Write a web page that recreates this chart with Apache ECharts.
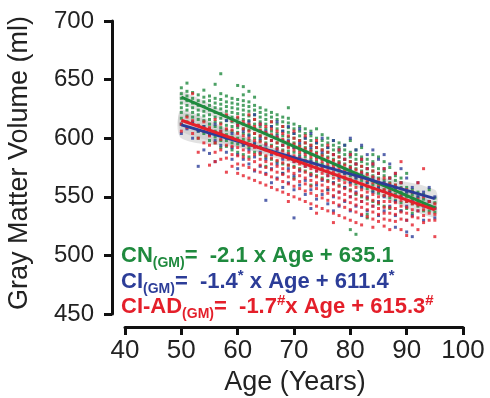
<!DOCTYPE html>
<html>
<head>
<meta charset="utf-8">
<title>Gray Matter Volume vs Age</title>
<script src="https://cdn.jsdelivr.net/npm/echarts@6/dist/echarts.min.js"></script>
<style>
  html, body { margin: 0; padding: 0; background: #fff; }
  #main { width: 490px; height: 398px; }
</style>
</head>
<body>
<div id="main"></div>
<script>
// colours
var GREEN = '#1f8a3e', BLUE = '#2c3d98', RED = '#e41f2a';

// ages of the scatter columns
var ages = [];
for (var a = 50; a <= 95; a++) ages.push(a);

// CN (green) volumes per age column
var cnVals = [
  [643, 638, 634, 630, 626, 622, 617, 612],
  [647, 640, 636, 632, 628, 624, 619, 614],
  [639, 634, 630, 626, 622, 618, 613],
  [637, 632, 628, 624, 620, 616, 611, 606, 600],
  [641, 635, 631, 627, 623, 619, 615, 610, 604],
  [636, 632, 628, 624, 620, 616, 612, 608, 603, 598],
  [646, 634, 630, 626, 622, 618, 614, 610, 606, 601, 596],
  [655, 638, 633, 629, 625, 621, 617, 613, 609, 604, 598, 592],
  [636, 631, 627, 623, 619, 615, 611, 607, 603, 598, 593],
  [634, 630, 626, 622, 618, 614, 610, 606, 601, 596, 590],
  [645, 633, 629, 625, 621, 617, 613, 609, 605, 600, 595, 588],
  [644, 637, 632, 628, 624, 620, 616, 612, 608, 604, 599, 594, 586],
  [640, 631, 627, 623, 619, 615, 611, 607, 603, 598, 592, 584],
  [635, 628, 624, 620, 616, 612, 608, 604, 600, 595, 588],
  [626, 622, 618, 614, 610, 606, 602, 598, 593, 586],
  [624, 620, 616, 612, 608, 604, 600, 596, 591, 584, 576],
  [622, 618, 614, 610, 606, 602, 598, 594, 589, 582],
  [620, 616, 612, 608, 604, 600, 596, 592, 587, 580],
  [618, 614, 610, 606, 602, 598, 594, 590, 585, 578, 570],
  [626, 617, 613, 609, 605, 601, 597, 593, 589, 584, 577],
  [612, 608, 604, 600, 596, 592, 588, 583, 576, 566],
  [610, 606, 602, 598, 594, 590, 586, 581, 574],
  [608, 604, 600, 596, 592, 588, 584, 579, 572],
  [606, 602, 598, 594, 590, 586, 582, 577, 570, 560],
  [608, 600, 596, 592, 588, 584, 580, 575, 568],
  [603, 598, 594, 590, 586, 582, 578, 573, 566],
  [600, 596, 592, 588, 584, 580, 576, 571, 564, 556],
  [598, 594, 590, 586, 582, 578, 574, 569, 562],
  [596, 592, 588, 584, 580, 576, 572, 567, 560],
  [594, 590, 586, 582, 578, 574, 570, 565, 558],
  [598, 588, 584, 580, 576, 572, 568, 563, 556, 522],
  [590, 586, 582, 578, 574, 570, 566, 561, 552, 518],
  [592, 584, 580, 576, 572, 568, 564, 559, 550],
  [582, 578, 574, 570, 566, 562, 557, 548, 535, 532],
  [586, 580, 576, 572, 568, 564, 560, 555, 546],
  [584, 574, 570, 566, 562, 558, 553, 544],
  [580, 572, 568, 564, 560, 556, 551, 542],
  [575, 566, 562, 558, 554, 549, 540],
  [568, 564, 560, 556, 552, 547],
  [566, 562, 558, 554, 550, 545, 538],
  [570, 558, 554, 550, 546, 540],
  [556, 552, 548, 544, 536],
  [554, 550, 546, 542],
  [552, 548, 544, 538],
  [556, 546, 542, 538],
  [549, 545, 541, 537]
];

// CI (blue)
var ciVals = [
  [612, 604], [608], [614, 600], [606, 576], [610, 590], [603, 587],
  [612, 598, 580], [606, 594], [615, 600, 588], [604, 592, 582],
  [611, 598, 586, 574], [606, 594, 582], [614, 602, 590, 578],
  [620, 608, 596, 584, 572], [612, 600, 588, 576], [606, 594, 582, 570, 547],
  [610, 598, 586, 574, 562], [614, 602, 590, 578, 566], [606, 594, 582, 570, 558],
  [610, 598, 586, 574, 562], [604, 592, 580, 568, 556, 532], [608, 596, 584, 572, 560],
  [600, 588, 576, 564, 552], [604, 592, 580, 568, 556, 540], [596, 584, 572, 560, 548],
  [600, 588, 576, 564, 552], [592, 580, 568, 556, 544], [598, 586, 574, 562, 550, 538],
  [590, 578, 566, 554, 542], [594, 582, 570, 558, 546], [600, 586, 574, 562, 550, 538],
  [590, 578, 566, 554, 542], [594, 582, 570, 558, 546, 534], [586, 574, 562, 550, 538],
  [590, 578, 566, 554, 542], [582, 570, 558, 546, 534], [586, 574, 562, 550, 538],
  [578, 566, 554, 542], [570, 558, 546, 534, 524], [574, 562, 550, 538],
  [566, 554, 542, 530, 520], [558, 546, 534, 516], [562, 550, 538],
  [554, 542, 530], [558, 546], [550, 540, 532]
];

// CI-AD (red)
var adVals = [
  [612, 606], [618, 609], [638, 615, 604], [611, 600, 588], [614, 606, 596],
  [609, 602, 594, 577], [616, 604, 596, 588, 580], [612, 606, 599, 590, 582],
  [620, 608, 601, 594, 583, 571], [615, 607, 600, 593, 586, 576],
  [618, 611, 604, 598, 592, 585, 578, 570],
  [614, 608, 602, 596, 590, 584, 577, 568],
  [620, 612, 606, 600, 594, 588, 582, 575, 566],
  [616, 610, 604, 598, 592, 586, 580, 573, 564],
  [612, 607, 602, 597, 592, 587, 582, 577, 571, 562],
  [610, 605, 600, 595, 590, 585, 580, 575, 569, 560],
  [614, 608, 603, 598, 593, 588, 583, 578, 573, 567, 558],
  [606, 601, 596, 591, 586, 581, 576, 571, 565, 556],
  [610, 604, 599, 594, 589, 584, 579, 574, 569, 563, 554],
  [602, 597, 592, 587, 582, 577, 572, 567, 561, 552, 546],
  [606, 600, 595, 590, 585, 580, 575, 570, 565, 559, 550],
  [598, 593, 588, 583, 578, 573, 568, 563, 557, 548],
  [602, 596, 591, 586, 581, 576, 571, 566, 561, 555, 546],
  [594, 589, 584, 579, 574, 569, 564, 559, 553, 544],
  [598, 592, 587, 582, 577, 572, 567, 562, 557, 551, 542, 536],
  [590, 585, 580, 575, 570, 565, 560, 555, 549, 540],
  [594, 588, 583, 578, 573, 568, 563, 558, 553, 547, 538],
  [586, 581, 576, 571, 566, 561, 556, 551, 545, 536, 528],
  [590, 584, 579, 574, 569, 564, 559, 554, 549, 543, 534],
  [582, 577, 572, 567, 562, 557, 552, 547, 541, 532],
  [586, 580, 575, 570, 565, 560, 555, 550, 545, 539, 530],
  [578, 573, 568, 563, 558, 553, 548, 543, 537, 528],
  [582, 576, 571, 566, 561, 556, 551, 546, 541, 535, 526],
  [574, 569, 564, 559, 554, 549, 544, 539, 533],
  [578, 572, 567, 562, 557, 552, 547, 542, 537, 531, 524],
  [570, 565, 560, 555, 550, 545, 540, 535, 529],
  [574, 566, 561, 556, 551, 546, 541, 536, 531, 525],
  [566, 561, 556, 551, 546, 541, 536, 530, 522],
  [570, 560, 555, 550, 545, 540, 535, 529],
  [580, 562, 557, 552, 547, 542, 537, 531, 522],
  [556, 551, 546, 541, 536, 530, 517],
  [554, 549, 544, 539, 533, 526],
  [562, 548, 543, 538, 532, 522],
  [574, 550, 544, 539, 534, 528],
  [546, 541, 536, 530],
  [544, 540, 535, 530, 516]
];

// fitted lines, value at age 50 and at age 95
var fitAges = [50, 95];
var cnFit = [635.1, 540.6];
var ciFit = [611.4, 548.4];
var adFit = [615.3, 538.8];

// confidence bands (grey)
var bandAges = [50, 60, 72, 84, 95];
var cnBandLo = [630, 611, 587, 561, 536];
var cnBandHi = [640, 617, 591, 566, 545];
var ciBandLo = [600, 592, 578, 559, 541];
var ciBandHi = [622, 603, 583, 568, 556];
var adBandLo = [606, 593, 575, 553, 532];
var adBandHi = [624, 604, 581, 562, 545];

// equations: [text, kind] kind 0 = normal, 1 = subscript, 2 = superscript
var cnEq = [['CN', 0], ['(GM)', 1], ['=  -2.1 x Age + 635.1', 0]];
var ciEq = [['CI', 0], ['(GM)', 1], ['=  -1.4', 0], ['*', 2], [' x Age + 611.4', 0], ['*', 2]];
var adEq = [['CI-AD', 0], ['(GM)', 1], ['=  -1.7', 0], ['#', 2], ['x Age + 615.3', 0], ['#', 2]];

var FONT = "'Liberation Sans', Arial, Helvetica, sans-serif";

function pts(vals) {
  var out = [];
  for (var i = 0; i < vals.length; i++) {
    for (var j = 0; j < vals[i].length; j++) out.push([ages[i], vals[i][j]]);
  }
  return out;
}

function fitLine(name, fit, color) {
  return {
    name: name, type: 'line', symbol: 'none', z: 5,
    data: fitAges.map(function (a, i) { return [a, fit[i]]; }),
    lineStyle: { color: color, width: 3 }
  };
}

function band(lo, hi) {
  return {
    type: 'custom', z: 1, silent: true,
    data: bandAges.map(function (a, i) { return [a, lo[i], hi[i]]; }),
    renderItem: function (params, api) {
      if (params.dataIndex !== 0) return null;
      var p = [];
      for (var i = 0; i < bandAges.length; i++) p.push(api.coord([bandAges[i], hi[i]]));
      for (var k = bandAges.length - 1; k >= 0; k--) p.push(api.coord([bandAges[k], lo[k]]));
      return { type: 'polygon', shape: { points: p, smooth: 0.3 },
               style: { fill: 'rgba(190,190,190,0.45)' } };
    }
  };
}

function scatter(name, vals, color) {
  return {
    name: name, type: 'scatter', z: 3, symbol: 'rect', symbolSize: 3,
    data: pts(vals), itemStyle: { color: color }
  };
}

// lay the equation pieces out one after the other
var ctx = document.createElement('canvas').getContext('2d');
function equation(parts, x0, baseline, color) {
  var els = [], x = x0;
  parts.forEach(function (p) {
    var size = p[1] === 0 ? 22 : (p[1] === 1 ? 14 : 15);
    var dy = p[1] === 1 ? 5 : (p[1] === 2 ? -8 : 0);
    ctx.font = 'bold ' + size + 'px ' + FONT;
    els.push({
      type: 'text', x: x, y: baseline + dy + Math.round(size * 0.21), z: 10,
      style: { text: p[0], fontSize: size, fontWeight: 'bold', fontFamily: FONT, fill: color,
               align: 'left', verticalAlign: 'bottom' }
    });
    x += ctx.measureText(p[0]).width;
  });
  return els;
}

var myChart = echarts.init(document.getElementById('main'));

var graphics = [
  { type: 'text', x: 20, y: 163, rotation: Math.PI / 2,
    style: { text: 'Gray Matter Volume (ml)', fontSize: 27, fontFamily: FONT, fill: '#222',
             align: 'center', verticalAlign: 'middle' } },
  { type: 'text', x: 295, y: 383,
    style: { text: 'Age (Years)', fontSize: 27, fontFamily: FONT, fill: '#222',
             align: 'center', verticalAlign: 'middle' } }
].concat(equation(cnEq, 121, 262, GREEN))
 .concat(equation(ciEq, 121, 288, BLUE))
 .concat(equation(adEq, 121, 313, RED));

var option = {
  animation: false,
  grid: { left: 125, right: 27, top: 21, bottom: 84 },
  xAxis: {
    type: 'value', min: 40, max: 100, interval: 10, offset: 13,
    axisLine: { lineStyle: { color: '#111', width: 3 } },
    axisTick: { length: 8, lineStyle: { color: '#111', width: 3 } },
    axisLabel: { fontSize: 26, color: '#222', fontFamily: FONT, margin: 11 },
    splitLine: { show: false }
  },
  yAxis: {
    type: 'value', min: 450, max: 700, interval: 50, offset: 13,
    axisLine: { show: true, lineStyle: { color: '#111', width: 3 } },
    axisTick: { show: true, length: 8, lineStyle: { color: '#111', width: 3 } },
    axisLabel: { fontSize: 24, color: '#222', fontFamily: FONT, margin: 18 },
    splitLine: { show: false }
  },
  graphic: graphics,
  series: [
    band(cnBandLo, cnBandHi),
    band(ciBandLo, ciBandHi),
    band(adBandLo, adBandHi),
    scatter('CN', cnVals, GREEN),
    scatter('CI', ciVals, BLUE),
    scatter('CI-AD', adVals, RED),
    fitLine('CN fit', cnFit, GREEN),
    fitLine('CI fit', ciFit, BLUE),
    fitLine('CI-AD fit', adFit, RED)
  ]
};
myChart.setOption(option);
</script>
</body>
</html>
